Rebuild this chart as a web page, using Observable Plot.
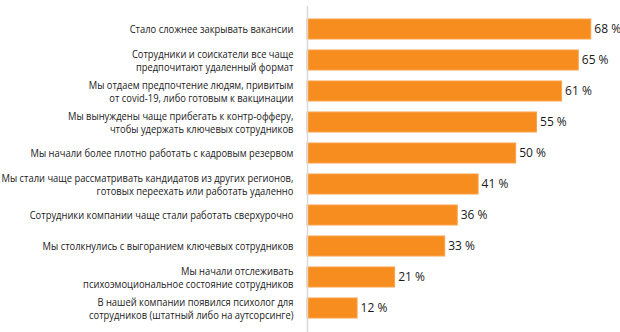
<!DOCTYPE html>
<html><head><meta charset="utf-8">
<script src="https://cdn.jsdelivr.net/npm/d3@7"></script>
<script src="https://cdn.jsdelivr.net/npm/@observablehq/plot@0.6"></script>
<style>body{margin:0;background:#fff}</style>
</head><body><div id="chart"></div>
<script>
const categories = [
  "Стало сложнее закрывать вакансии",
  "Сотрудники и соискатели все чаще\nпредпочитают удаленный формат",
  "Мы отдаем предпочтение людям, привитым\nот covid-19, либо готовым к вакцинации",
  "Мы вынуждены чаще прибегать к контр-офферу,\nчтобы удержать ключевых сотрудников",
  "Мы начали более плотно работать с кадровым резервом",
  "Мы стали чаще рассматривать кандидатов из других регионов,\nготовых переехать или работать удаленно",
  "Сотрудники компании чаще стали работать сверхурочно",
  "Мы столкнулись с выгоранием ключевых сотрудников",
  "Мы начали отслеживать\nпсихоэмоциональное состояние сотрудников",
  "В нашей компании появился психолог для\nсотрудников (штатный либо на аутсорсинге)"
];
const values = [68, 65, 61, 55, 50, 41, 36, 33, 21, 12];
const data = categories.map((c, i) => ({c, v: values[i]}));

const chart = Plot.plot({
  width: 620, height: 332,
  marginLeft: 307, marginRight: 0, marginTop: 9, marginBottom: 4,
  style: {fontFamily: "'Open Sans'", background: "#fff"},
  x: {domain: [0, 75], axis: null},
  y: {domain: categories, axis: null, paddingInner: 0.34, paddingOuter: 0.17},
  marks: [
    Plot.barX(data, {x: "v", y: "c", fill: "#f78d1e", stroke: "#fba24a", strokeWidth: 1}),
    Plot.ruleX([0], {stroke: "#d9d9d9", strokeWidth: 1.5, insetTop: -3, insetBottom: -4}),
    Plot.text(data, {x: 0, y: "c", text: "c", textAnchor: "end", dx: -14, fontSize: 11, lineHeight: 1.12, fill: "#1a1a1a", className: "cat-labels"}),
    Plot.text(data, {x: "v", y: "c", text: d => d.v + " %", textAnchor: "start", dx: 3, fontSize: 12, fill: "#1a1a1a"})
  ]
});
document.getElementById("chart").appendChild(chart);

// condense category labels horizontally so the widest line fits the left margin
const g = chart.querySelector("g.cat-labels");
if (g) {
  let maxW = 0;
  g.querySelectorAll("tspan, text").forEach(t => {
    if (t.tagName === "tspan" || !t.querySelector("tspan")) maxW = Math.max(maxW, t.getComputedTextLength());
  });
  const anchor = 293, target = 292;
  if (maxW > target) {
    const s = target / maxW;
    const prev = g.getAttribute("transform") || "";
    g.setAttribute("transform", `translate(${anchor * (1 - s)},0) scale(${s},1) ${prev}`);
  }
}
</script>
</body></html>
